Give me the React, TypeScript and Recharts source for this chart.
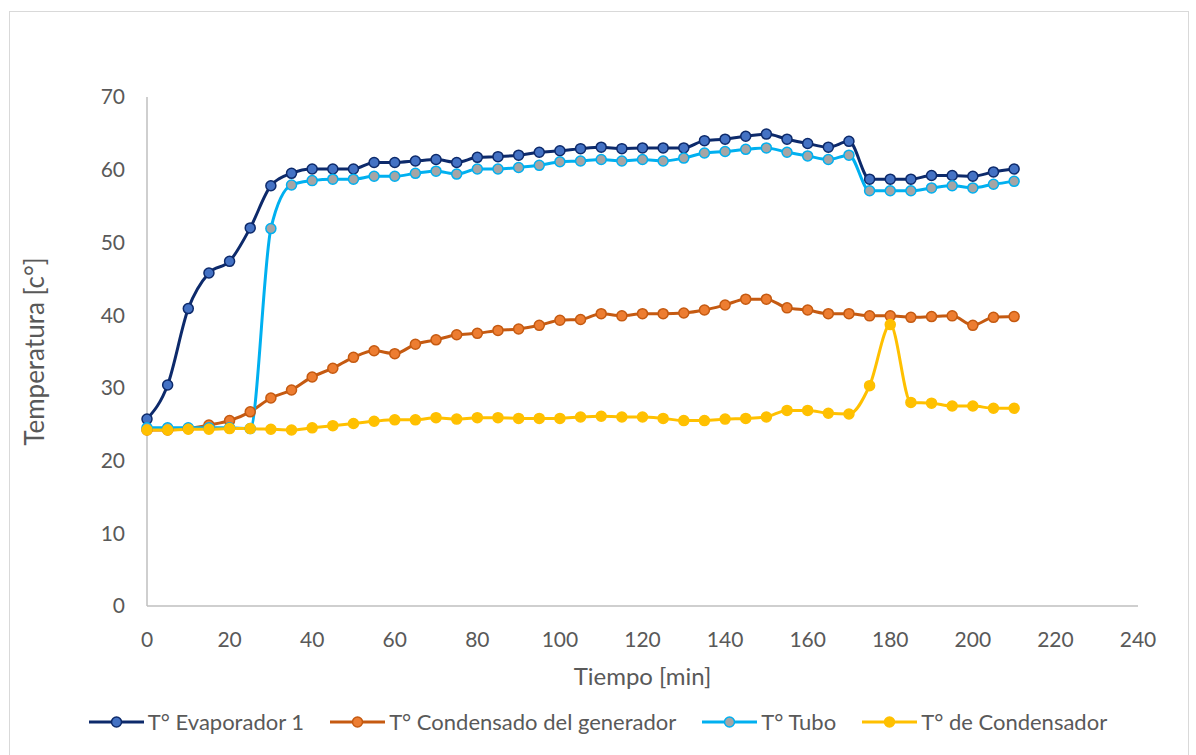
import { LineChart, Line, XAxis, YAxis } from 'recharts';

const tiempo = [0, 5, 10, 15, 20, 25, 30, 35, 40, 45, 50, 55, 60, 65, 70, 75, 80, 85, 90, 95, 100, 105, 110, 115, 120, 125, 130, 135, 140, 145, 150, 155, 160, 165, 170, 175, 180, 185, 190, 195, 200, 205, 210];

const evaporador1 = [25.7, 30.4, 40.9, 45.8, 47.4, 52.0, 57.8, 59.5, 60.1, 60.1, 60.1, 61.0, 61.0, 61.2, 61.4, 61.0, 61.7, 61.8, 62.0, 62.4, 62.6, 62.9, 63.1, 62.9, 63.0, 63.0, 63.0, 64.0, 64.2, 64.6, 64.9, 64.2, 63.6, 63.1, 63.9, 58.7, 58.7, 58.7, 59.2, 59.2, 59.1, 59.7, 60.1];

const condensadoGenerador = [24.2, 24.2, 24.4, 24.9, 25.5, 26.7, 28.6, 29.7, 31.5, 32.7, 34.2, 35.1, 34.7, 36.0, 36.6, 37.3, 37.5, 37.9, 38.1, 38.6, 39.3, 39.4, 40.2, 39.9, 40.2, 40.2, 40.3, 40.7, 41.4, 42.2, 42.2, 41.0, 40.7, 40.2, 40.2, 39.9, 39.9, 39.7, 39.8, 39.9, 38.6, 39.7, 39.8];

const tubo = [24.5, 24.5, 24.5, 24.5, 24.5, 24.4, 51.9, 57.9, 58.5, 58.7, 58.7, 59.1, 59.1, 59.5, 59.8, 59.4, 60.1, 60.1, 60.3, 60.6, 61.1, 61.2, 61.4, 61.2, 61.4, 61.2, 61.6, 62.3, 62.5, 62.8, 63.0, 62.4, 61.9, 61.4, 62.0, 57.1, 57.1, 57.1, 57.5, 57.8, 57.5, 58.0, 58.4];

const condensador = [24.2, 24.2, 24.3, 24.3, 24.4, 24.4, 24.3, 24.2, 24.5, 24.8, 25.1, 25.4, 25.6, 25.6, 25.9, 25.7, 25.9, 25.9, 25.8, 25.8, 25.8, 26.0, 26.1, 26.0, 26.0, 25.8, 25.5, 25.5, 25.7, 25.8, 26.0, 26.9, 26.9, 26.5, 26.4, 30.3, 38.7, 28.0, 27.9, 27.5, 27.5, 27.2, 27.2];

const xTicks = [0, 20, 40, 60, 80, 100, 120, 140, 160, 180, 200, 220, 240];
const yTicks = [0, 10, 20, 30, 40, 50, 60, 70];

const series = [
  { key: 'evap', name: 'T° Evaporador 1', line: '#0D2A6B', fill: '#4472C4', stroke: '#0D2A6B' },
  { key: 'gen', name: 'T° Condensado del generador', line: '#C55A11', fill: '#ED7D31', stroke: '#C55A11' },
  { key: 'tubo', name: 'T° Tubo', line: '#00B0F0', fill: '#A5A5A5', stroke: '#00B0F0' },
  { key: 'cond', name: 'T° de Condensador', line: '#FFC000', fill: '#FFC000', stroke: '#FFC000' },
];

const data = tiempo.map((t, i) => ({
  t,
  evap: evaporador1[i],
  gen: condensadoGenerador[i],
  tubo: tubo[i],
  cond: condensador[i],
}));

const FONT = 'Lato, "Noto Sans", sans-serif';
const TEXT = '#595959';

export default function App() {
  return (
    <div style={{ position: 'absolute', left: 0, top: 0, width: 1196, height: 755, background: '#fff', overflow: 'hidden', fontFamily: FONT }}>
      <div style={{ position: 'absolute', left: 9, top: 11, width: 1178, height: 770, border: '1px solid #D9D9D9' }} />
      <LineChart
        width={1196}
        height={755}
        data={data}
        margin={{ top: 97, right: 58, left: 17, bottom: 109 }}
        style={{ position: 'absolute', left: 0, top: 0 }}
      >
        <XAxis
          dataKey="t"
          type="number"
          domain={[0, 240]}
          ticks={xTicks}
          height={40}
          tickLine={false}
          tickSize={6}
          tickMargin={20}
          stroke="#BFBFBF"
          strokeWidth={1.5}
          tick={{ fill: TEXT, fontSize: 21, fontFamily: FONT }}
          label={{ value: 'Tiempo [min]', position: 'bottom', offset: 22, fill: TEXT, fontSize: 24, fontFamily: FONT }}
        />
        <YAxis
          type="number"
          domain={[0, 70]}
          ticks={yTicks}
          width={130}
          tickLine={false}
          tickSize={6}
          tickMargin={16}
          stroke="#BFBFBF"
          strokeWidth={1.5}
          tick={{ fill: TEXT, fontSize: 21, fontFamily: FONT }}
          label={{ value: 'Temperatura [c°]', angle: -90, position: 'insideLeft', offset: 18, fill: TEXT, fontSize: 26, fontFamily: FONT, style: { textAnchor: 'middle' } }}
        />
        {series.map(s => (
          <Line
            key={s.key}
            dataKey={s.key}
            name={s.name}
            type="monotone"
            stroke={s.line}
            strokeWidth={3}
            dot={{ r: 5, fill: s.fill, stroke: s.stroke, strokeWidth: 1.5 }}
            activeDot={false}
            isAnimationActive={false}
          />
        ))}
      </LineChart>
      <div style={{ position: 'absolute', left: 0, top: 708, width: 1196, display: 'flex', justifyContent: 'center', gap: 26, color: TEXT, fontSize: 22 }}>
        {series.map(s => (
          <div key={s.key} style={{ display: 'flex', alignItems: 'center', gap: 4 }}>
            <svg width={55} height={14}>
              <line x1={0} y1={7} x2={55} y2={7} stroke={s.line} strokeWidth={3} />
              <circle cx={27.5} cy={7} r={5} fill={s.fill} stroke={s.stroke} strokeWidth={1.5} />
            </svg>
            <span>{s.name}</span>
          </div>
        ))}
      </div>
    </div>
  );
}
